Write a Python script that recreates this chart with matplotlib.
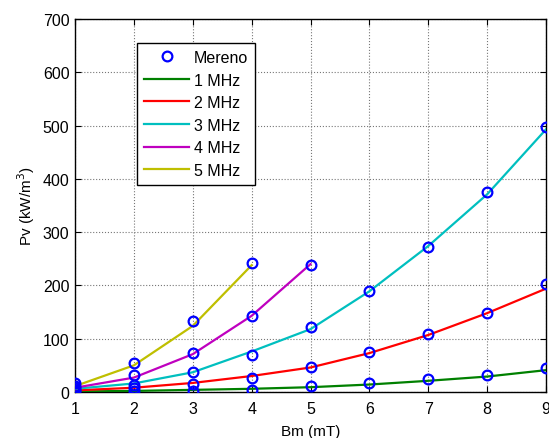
import matplotlib
matplotlib.use("Agg")
import matplotlib.pyplot as plt

plt.rcParams['font.family'] = ['Liberation Sans', 'DejaVu Sans']

# Measured points (Mereno)
meas_x = [1, 1, 1, 1, 1,
          2, 2, 2, 2, 2,
          3, 3, 3, 3, 3,
          4, 4, 4, 4, 4,
          5, 5, 5, 5,
          6, 6, 6,
          7, 7, 7,
          8, 8, 8,
          9, 9, 9]
meas_y = [16, 11, 7, 4, 2,
          55, 31, 14, 8, 2,
          134, 74, 38, 15, 1,
          243, 143, 69, 27, 4,
          239, 122, 46, 11,
          190, 75, 17,
          272, 108, 24,
          376, 149, 32,
          497, 202, 45]

# Model curves
x_1mhz = [1, 2, 3, 4, 5, 6, 7, 8, 9]
y_1mhz = [1, 2, 4, 6, 9, 14, 21, 29, 41]
x_2mhz = [1, 2, 3, 4, 5, 6, 7, 8, 9]
y_2mhz = [3, 8, 17, 30, 46, 73, 107, 148, 194]
x_3mhz = [1, 2, 3, 4, 5, 6, 7, 8, 9]
y_3mhz = [6, 16, 37, 76, 118, 189, 274, 371, 493]
x_4mhz = [1, 2, 3, 4, 5]
y_4mhz = [8, 27, 71, 143, 240]
x_5mhz = [1, 2, 3, 4]
y_5mhz = [11, 50, 124, 238]

series = [
    ("1 MHz", x_1mhz, y_1mhz, (0, 0.5, 0)),
    ("2 MHz", x_2mhz, y_2mhz, (1, 0, 0)),
    ("3 MHz", x_3mhz, y_3mhz, (0, 0.75, 0.75)),
    ("4 MHz", x_4mhz, y_4mhz, (0.75, 0, 0.75)),
    ("5 MHz", x_5mhz, y_5mhz, (0.75, 0.75, 0)),
]

x_ticks = [1, 2, 3, 4, 5, 6, 7, 8, 9]
y_ticks = [0, 100, 200, 300, 400, 500, 600, 700]

fig = plt.figure(figsize=(5.49, 4.39), dpi=100)
ax = fig.add_axes([0.1366, 0.1048, 0.858, 0.8496])

handles = []
h = ax.plot(meas_x, meas_y, linestyle='none', marker='o', markersize=7,
            markerfacecolor='none', markeredgecolor=(0, 0, 1),
            markeredgewidth=1.6, label='Mereno', zorder=4)[0]
handles.append(h)
for name, xs, ys, col in series:
    h = ax.plot(xs, ys, color=col, linewidth=1.6, label=name, zorder=3)[0]
    handles.append(h)

ax.set_xlim(1, 9)
ax.set_ylim(0, 700)
ax.set_xticks(x_ticks)
ax.set_yticks(y_ticks)
ax.tick_params(direction='in', top=True, right=True, labelsize=11.5,
               length=4, width=0.8)
ax.tick_params(axis='x', pad=6.5)
ax.tick_params(axis='y', pad=4)
ax.grid(True, linestyle=':', color='#777777', linewidth=0.8)
for s in ax.spines.values():
    s.set_linewidth(1.0)

ax.set_xlabel('Bm (mT)', fontsize=11, labelpad=6)
ax.set_ylabel('Pv (kW/m$^3$)', fontsize=11)

leg = ax.legend(handles=handles, loc='upper left',
                bbox_to_anchor=(0.132, 0.936), fontsize=11.5,
                frameon=True, fancybox=False, edgecolor='black',
                handlelength=2.8, handletextpad=0.3, borderpad=0.45,
                labelspacing=0.47, borderaxespad=0)
leg.get_frame().set_linewidth(1.0)
leg.get_frame().set_alpha(1)

fig.savefig('out.png', dpi=100)
